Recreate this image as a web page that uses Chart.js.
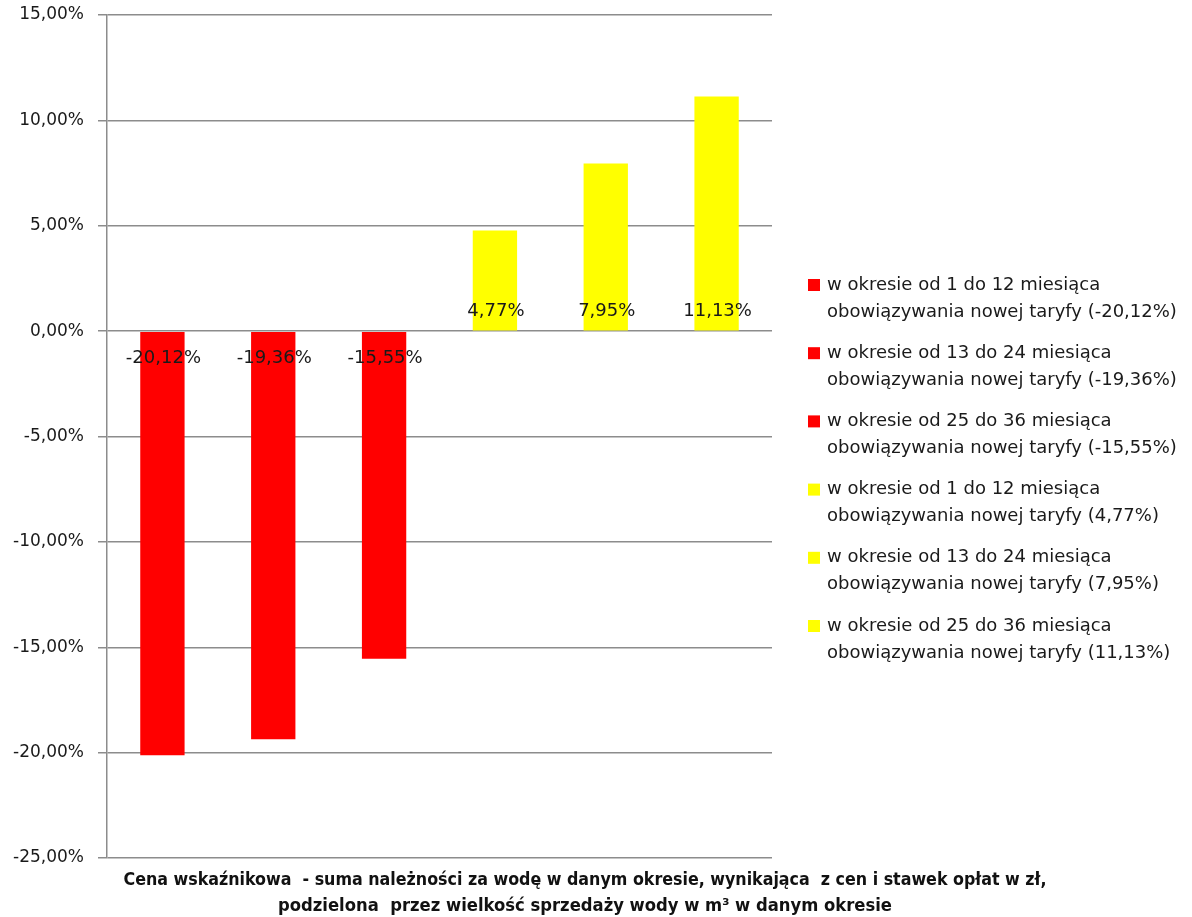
<!DOCTYPE html>
<html>
<head>
<meta charset="utf-8">
<script src="https://cdn.jsdelivr.net/npm/chart.js@4/dist/chart.umd.min.js"></script>
<style>
    html, body { margin: 0; padding: 0; background: #fff; }
    #wrap { width: 1192px; height: 917px; position: relative; }
</style>
</head>
<body>
<div id="wrap"><canvas id="myChart"></canvas></div>
<script>
// Data
////////////////////////////////////////////////
var categories = ['Cena wskaźnikowa'];

var seriesLabels = [
    ['w okresie od 1 do 12 miesiąca', 'obowiązywania nowej taryfy (-20,12%)'],
    ['w okresie od 13 do 24 miesiąca', 'obowiązywania nowej taryfy (-19,36%)'],
    ['w okresie od 25 do 36 miesiąca', 'obowiązywania nowej taryfy (-15,55%)'],
    ['w okresie od 1 do 12 miesiąca', 'obowiązywania nowej taryfy (4,77%)'],
    ['w okresie od 13 do 24 miesiąca', 'obowiązywania nowej taryfy (7,95%)'],
    ['w okresie od 25 do 36 miesiąca', 'obowiązywania nowej taryfy (11,13%)']
];

var seriesValues = [-20.12, -19.36, -15.55, 4.77, 7.95, 11.13];

var seriesColours = ['#ff0000', '#ff0000', '#ff0000', '#ffff00', '#ffff00', '#ffff00'];

var axisTitle = [
    'Cena wskaźnikowa  - suma należności za wodę w danym okresie, wynikająca  z cen i stawek opłat w zł,',
    'podzielona  przez wielkość sprzedaży wody w m³ w danym okresie'
];

var yMin = -25, yMax = 15, yStep = 5;

// Functions
////////////////////////////////////////////////
function pct(v){
    return v.toFixed(2).replace('.', ',') + '%';
}

const FONT = "'DejaVu Sans', Verdana, sans-serif";

// value labels at the base of each bar (like Excel "inside base")
const baseLabels = {
    id: 'baseLabels',
    afterDatasetsDraw(chart){
        const ctx = chart.ctx;
        const zeroY = chart.scales.y.getPixelForValue(0);
        ctx.save();
        ctx.font = '18px ' + FONT;
        ctx.fillStyle = '#1a1a1a';
        ctx.textAlign = 'center';
        ctx.textBaseline = 'middle';
        chart.data.datasets.forEach((ds, i) => {
            const el = chart.getDatasetMeta(i).data[0];
            const v = ds.data[0];
            const y = v < 0 ? zeroY + 27 : zeroY - 20;
            ctx.fillText(pct(v), el.x + 1, y);
        });
        ctx.restore();
    }
};

// two-line legend on the right
const sideLegend = {
    id: 'sideLegend',
    afterDraw(chart){
        const ctx = chart.ctx;
        const x = chart.chartArea.right + 36;
        let y = 285;
        ctx.save();
        ctx.font = '18px ' + FONT;
        ctx.textBaseline = 'middle';
        ctx.textAlign = 'left';
        chart.data.datasets.forEach(ds => {
            ctx.fillStyle = ds.backgroundColor;
            ctx.fillRect(x, y - 6, 12, 12);
            ctx.fillStyle = '#1a1a1a';
            ctx.fillText(ds.label[0], x + 19, y);
            ctx.fillText(ds.label[1], x + 19, y + 27);
            y += 68.2;
        });
        ctx.restore();
    }
};

// bold category description under the plot
const bottomTitle = {
    id: 'bottomTitle',
    afterDraw(chart){
        const ctx = chart.ctx;
        const widths = [923, 614];
        const cx = 585;
        ctx.save();
        ctx.font = "bold 17px 'Liberation Sans Narrow', 'DejaVu Sans Condensed', sans-serif";
        ctx.fillStyle = '#111';
        ctx.textAlign = 'center';
        ctx.textBaseline = 'middle';
        axisTitle.forEach((line, i) => {
            const w = ctx.measureText(line).width;
            ctx.save();
            ctx.translate(cx, 881 + i * 26);
            ctx.scale(widths[i] / w, 1);
            ctx.fillText(line, 0, 0);
            ctx.restore();
        });
        ctx.restore();
    }
};

var datasets = seriesValues.map((v, i) => ({
    label: seriesLabels[i],
    data: [v],
    backgroundColor: seriesColours[i],
    borderWidth: 0
}));

const config = {
    type: 'bar',
    data: {
        labels: categories,
        datasets: datasets
    },
    options: {
        responsive: true,
        maintainAspectRatio: false,
        animation: false,
        categoryPercentage: 1,
        barPercentage: 0.4,
        layout: {
            padding: { left: 0, right: 420, top: 15, bottom: 59 }
        },
        plugins: {
            legend: { display: false },
            tooltip: { enabled: false }
        },
        scales: {
            x: { display: false },
            y: {
                min: yMin,
                max: yMax,
                afterFit(scale){
                    scale.width = 107;
                    scale.paddingTop = 0;
                    scale.paddingBottom = 0;
                },
                ticks: {
                    stepSize: yStep,
                    padding: 14,
                    color: '#1a1a1a',
                    font: { family: FONT, size: 17 },
                    callback: v => pct(v)
                },
                grid: {
                    color: '#8c8c8c',
                    lineWidth: 1.5,
                    tickLength: 9
                },
                border: { color: '#8c8c8c', width: 1.5 }
            }
        }
    },
    plugins: [baseLabels, sideLegend, bottomTitle]
};

var myChart = new Chart(document.getElementById('myChart'), config);
</script>
</body>
</html>
